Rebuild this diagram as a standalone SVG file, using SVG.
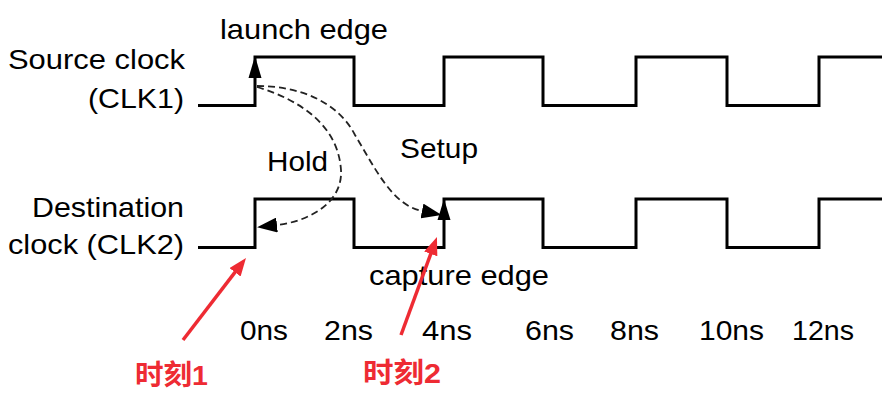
<svg xmlns="http://www.w3.org/2000/svg" width="882" height="406" viewBox="0 0 882 406">
<style>
.bg{fill:#ffffff}
.wave{fill:none;stroke:#000;stroke-width:3;stroke-linejoin:miter}
.head{fill:#000}
.dash{fill:none;stroke:#222;stroke-width:1.8;stroke-dasharray:7 4}
.red{fill:none;stroke:#ee2b33;stroke-width:3.5}
.lbl{font-family:"Liberation Sans",Arial,Helvetica,sans-serif;font-size:28px;fill:#000}
.t{font-family:"Liberation Sans",Arial,Helvetica,sans-serif;font-size:27px;fill:#000}
.cjk{font-family:"Liberation Sans","Noto Sans CJK SC",sans-serif;font-size:28px;font-weight:bold;fill:#ee2b33}
</style>
<defs>
<marker id="mBlk" markerUnits="userSpaceOnUse" viewBox="0 0 20 15" markerWidth="20" markerHeight="15" refX="0" refY="7.5" orient="auto">
<path d="M0,0 L20,7.5 L0,15 z" fill="#000"/>
</marker>
<marker id="mRed" markerUnits="userSpaceOnUse" viewBox="0 0 18 14" markerWidth="18" markerHeight="14" refX="8" refY="7" orient="auto">
<path d="M0,0 L18,7 L0,14 z" fill="#ee2b33"/>
</marker>
</defs>
<rect class="bg" x="0" y="0" width="882" height="406"/>

<g id="clk1">
<text class="lbl" x="8" y="69" textLength="177" lengthAdjust="spacingAndGlyphs">Source clock</text>
<text class="lbl" x="88" y="108" textLength="96" lengthAdjust="spacingAndGlyphs">(CLK1)</text>
<path class="wave" d="M198,105.5 H255 V57 H354 V105.5 H444 V57 H543 V105.5 H636 V57 H727 V105.5 H819 V57 H882"/>
<polygon class="head" points="255,56 248.5,78 261.5,78"/>
</g>

<g id="clk2">
<text class="lbl" x="32" y="217" textLength="152" lengthAdjust="spacingAndGlyphs">Destination</text>
<text class="lbl" x="8" y="254" textLength="176" lengthAdjust="spacingAndGlyphs">clock (CLK2)</text>
<path class="wave" d="M198,247.5 H255 V199 H354 V247.5 H444 V199 H543 V247.5 H636 V199 H727 V247.5 H819 V199 H882"/>
<polygon class="head" points="444,199 437.5,220 450.5,220"/>
</g>

<g id="launch-label">
<text class="lbl" x="220" y="39" textLength="168" lengthAdjust="spacingAndGlyphs">launch edge</text>
</g>
<g id="capture-label">
<text class="lbl" x="369" y="285" textLength="180" lengthAdjust="spacingAndGlyphs">capture edge</text>
</g>
<g id="hold-label">
<text class="lbl" x="267" y="171" textLength="61" lengthAdjust="spacingAndGlyphs">Hold</text>
</g>
<g id="setup-label">
<text class="lbl" x="400" y="158" textLength="78" lengthAdjust="spacingAndGlyphs">Setup</text>
</g>

<g id="time-axis">
<text class="t" x="240" y="340" textLength="48" lengthAdjust="spacingAndGlyphs">0ns</text>
<text class="t" x="324" y="340" textLength="49" lengthAdjust="spacingAndGlyphs">2ns</text>
<text class="t" x="422" y="340" textLength="50" lengthAdjust="spacingAndGlyphs">4ns</text>
<text class="t" x="525" y="340" textLength="49" lengthAdjust="spacingAndGlyphs">6ns</text>
<text class="t" x="610" y="340" textLength="49" lengthAdjust="spacingAndGlyphs">8ns</text>
<text class="t" x="699" y="340" textLength="65" lengthAdjust="spacingAndGlyphs">10ns</text>
<text class="t" x="792" y="340" textLength="62" lengthAdjust="spacingAndGlyphs">12ns</text>
</g>

<g id="moment1">
<text class="cjk" x="135" y="385" textLength="73" lengthAdjust="spacingAndGlyphs">时刻1</text>
</g>
<g id="moment2">
<text class="cjk" x="363" y="383" textLength="78" lengthAdjust="spacingAndGlyphs">时刻2</text>
</g>

<g id="connectors">
<path class="dash" d="M257,87 C300,100 338,125 341,170 C343,205 305,222 277,225" marker-end="url(#mBlk)"/>
<path class="dash" d="M257,86 C300,86 338,102 355,135 C375,168 392,205 422,211" marker-end="url(#mBlk)"/>
<line class="red" x1="183" y1="340" x2="239.9" y2="265.9" marker-end="url(#mRed)"/>
<line class="red" x1="401" y1="335" x2="433.5" y2="246.4" marker-end="url(#mRed)"/>
</g>
</svg>
